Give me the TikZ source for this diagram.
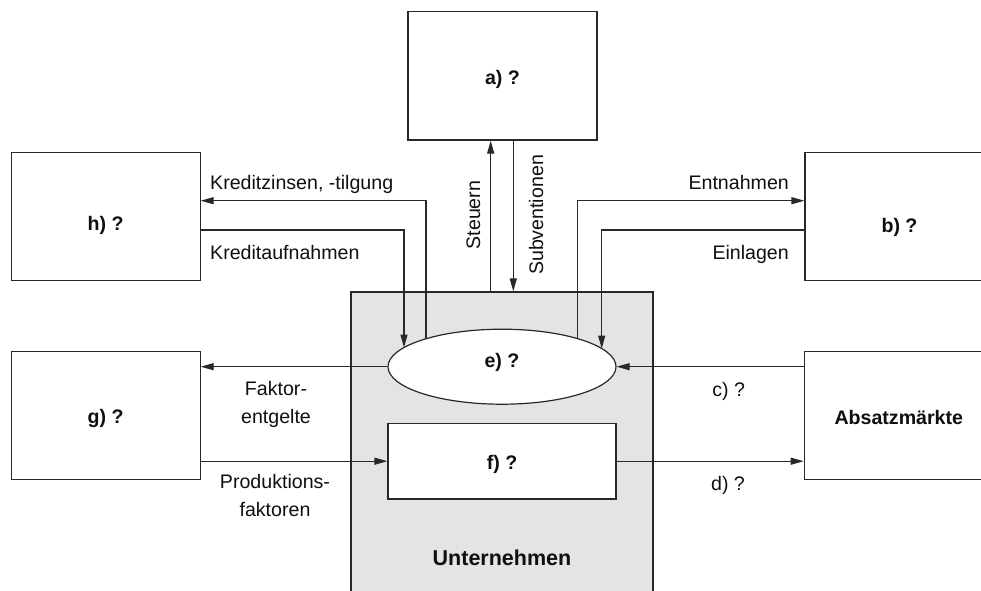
\documentclass[tikz,border=0pt]{standalone}
\usepackage{fontspec}
\setmainfont{Liberation Sans}
\usetikzlibrary{arrows.meta,shapes.geometric,calc}
\definecolor{ln}{RGB}{40,40,40}
\definecolor{tx}{RGB}{15,15,15}
\definecolor{ufill}{RGB}{228,228,228}
\begin{document}
\begin{tikzpicture}[x=1pt,y=-1pt,
  every node/.style={font=\fontsize{19.6}{27.7}\selectfont, text=tx},
  shp/.style={draw=ln, line width=1.2pt, fill=white, inner sep=0pt, text depth=3.9pt, font=\bfseries\fontsize{19.6}{23}\selectfont},
  box/.style={shp, minimum width=189pt, minimum height=128.4pt},
  arr/.style={draw=ln, line width=1.2pt, -{Triangle[length=13pt,width=7pt]}},
  lbl/.style={inner sep=0pt},
]
\useasboundingbox (0,0) rectangle (981,590);
% Unternehmen
\node[shp, fill=ufill, minimum width=302pt, minimum height=320pt, text height=229.9pt, font=\bfseries\fontsize{21.5}{25}\selectfont] (u) at (502,452) {Unternehmen};
% outer boxes
\node[box, text height=20.3pt] (a) at (502.5,75.8) {a) ?};
\node[box, text height=32.1pt] (h) at (105.6,216.5) {h) ?};
\node[box, text height=34.9pt] (b) at (899.5,216.5) {b) ?};
\node[box, text height=18.9pt] (g) at (105.6,415.5) {g) ?};
\node[box, text height=20.9pt] (m) at (898.8,415.5) {Absatzmärkte};
% inner shapes
\node[shp, ellipse, minimum width=228pt, minimum height=75pt, text height=4.5pt] (e) at (502,366.7) {e) ?};
\node[shp, minimum width=228pt, minimum height=75.7pt, text height=19.9pt] (f) at (502,461.2) {f) ?};
% points on the ellipse
\coordinate (e1) at ($(e.center)+(-76,-27.95)$);
\coordinate (e2) at ($(e.center)+(-98,-19.16)$);
\coordinate (e3) at ($(e.center)+(75.7,-28.04)$);
\coordinate (e4) at ($(e.center)+(99.7,-18.18)$);
% connectors
\draw[arr] (e1) |- ([yshift=15.8pt]h.east);
\draw[arr] ([yshift=-13.5pt]h.east) -| (e2);
\draw[arr] (e3) |- ([yshift=15.8pt]b.west);
\draw[arr] ([yshift=-13.5pt]b.west) -| (e4);
\draw[arr] ([xshift=-11.3pt]u.north) -- ([xshift=-11.8pt]a.south);
\draw[arr] ([xshift=10.8pt]a.south) -- ([xshift=11.3pt]u.north);
\draw[arr] (e.west) -- (e.west -| g.east);
\draw[arr] (f.west -| g.east) -- (f.west);
\draw[arr] (e.east -| m.west) -- (e.east);
\draw[arr] (f.east) -- (f.east -| m.west);
% labels
\node[lbl, anchor=base west] (l1) at (210,189) {Kreditzinsen, -tilgung};
\node[lbl, anchor=base west] (l2) at (210,259) {Kreditaufnahmen};
\node[lbl, anchor=base east] (l3) at (789,189) {Entnahmen};
\node[lbl, anchor=base east] (l4) at (789,259) {Einlagen};
\node[lbl, rotate=90, anchor=base] (l5) at (480,215) {Steuern};
\node[lbl, rotate=90, anchor=base] (l6) at (543,215) {Subventionen};
\node[lbl, align=center, anchor=base] (l7) at (276,423.4) {Faktor-\\entgelte};
\node[lbl, align=center, anchor=base] (l8) at (275,516.3) {Produktions-\\faktoren};
\node[lbl, anchor=base] (l9) at (728.7,396) {c) ?};
\node[lbl, anchor=base] (l10) at (728,490) {d) ?};
\end{tikzpicture}
\end{document}
